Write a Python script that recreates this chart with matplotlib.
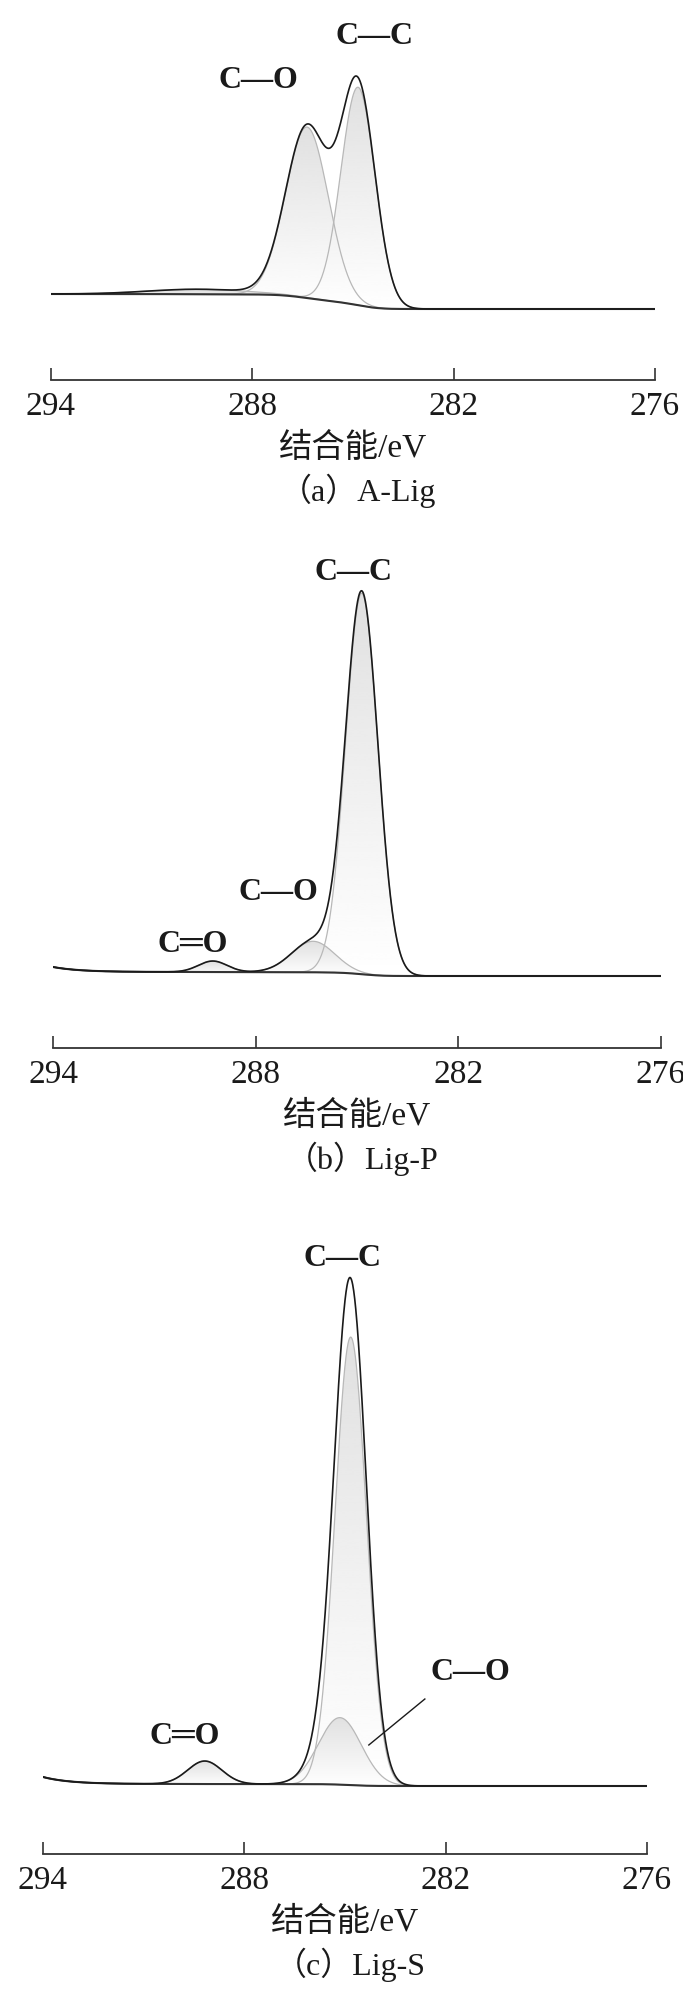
import numpy as np
import matplotlib
matplotlib.use("Agg")
import matplotlib.pyplot as plt
from matplotlib.patches import Polygon

plt.rcParams['font.family'] = ['Liberation Serif', 'Noto Sans CJK SC', 'DejaVu Serif']

W, H = 683, 1996

# fitted C1s components: centre (eV), height (a.u.), FWHM (eV)
a_names = ['C—C', 'C—O', 'C═O']
a_center = [284.85, 286.37, 289.6]
a_height = [218, 171, 5]
a_fwhm = [1.2, 1.5, 3.5]
a_bg = [15, 0]          # background level at 294 eV and 276 eV
a_tail = [0, 0.8]       # high-BE tail: amplitude, decay (eV)

b_names = ['C—C', 'C—O', 'C═O']
b_center = [284.86, 286.3, 289.27]
b_height = [381, 31, 11]
b_fwhm = [1.13, 1.5, 1.0]
b_bg = [4, 0]
b_tail = [5, 0.8]

c_names = ['C—C', 'C—O', 'C═O']
c_center = [284.83, 285.15, 289.18]
c_height = [448, 67, 23]
c_fwhm = [1.1, 1.5, 1.2]
c_bg = [2, 0]
c_tail = [7, 0.8]

xticks = [294, 288, 282, 276]
xlabel = '结合能/eV'
captions = ['（a）A-Lig', '（b）Lig-P', '（c）Lig-S']

# label positions (eV, intensity) per panel
a_lab = {'C—C': (284.35, 272), 'C—O': (287.83, 228)}
b_lab = {'C—C': (285.1, 404), 'C—O': (287.34, 84), 'C═O': (289.86, 32)}
c_lab = {'C—C': (285.06, 527), 'C—O': (281.25, 113), 'C═O': (289.77, 50)}

# pixel layout: left, right, axis line y, top y, right-baseline y
layout = [(51, 655, 380, 0, 309),
          (53, 661, 1048, 530, 976),
          (43, 647, 1854, 1215, 1786)]


def gauss(E, c, h, w):
    return h * np.exp(-4 * np.log(2) * ((E - c) / w) ** 2)


def draw_panel(fig, geom, centers, heights, fwhms, bg, tail, labels, caption, leader=None):
    left, right, axy, topy, basey = geom
    ax = fig.add_axes([left / W, 1 - axy / H, (right - left) / W, (axy - topy) / H])
    E = np.linspace(294, 276, 1801)
    comps = [gauss(E, c, h, w) for c, h, w in zip(centers, heights, fwhms)]
    S = np.sum(comps, axis=0)
    # Shirley background
    cum = np.cumsum(S[::-1])[::-1]
    B = bg[1] + (bg[0] - bg[1]) * cum / cum[0]
    B = B + tail[0] * np.exp((E - 294) / tail[1])
    env = B + S

    for comp in comps:
        top = B + comp
        verts = np.column_stack([np.r_[E, E[::-1]], np.r_[top, B[::-1]]])
        poly = Polygon(verts, closed=True, facecolor='none', edgecolor='none')
        ax.add_patch(poly)
        grad = np.linspace(1.0, 0.88, 256).reshape(-1, 1)
        im = ax.imshow(grad, cmap='gray', vmin=0, vmax=1, aspect='auto',
                       extent=[294, 276, B.min(), top.max()], origin='lower',
                       interpolation='bicubic', zorder=1)
        im.set_clip_path(poly)
        ax.plot(E, top, color='#b8b8b8', lw=0.9, zorder=2)

    ax.plot(E, B, color='#333333', lw=1.5, zorder=3)
    ax.plot(E, env, color='#1a1a1a', lw=1.2, zorder=4)

    for name, (x, y) in labels.items():
        ax.text(x, y, name, ha='center', va='center', fontsize=23,
                fontweight='bold', color='#1a1a1a',
                family=['Liberation Serif', 'DejaVu Serif'])
    if leader is not None:
        ax.plot(leader[0], leader[1], color='#1a1a1a', lw=1.0, zorder=5)

    ybot = -(axy - basey)
    ax.set_ylim(ybot, ybot + (axy - topy))
    ax.set_xlim(294, 276)
    for s in ['left', 'right', 'top']:
        ax.spines[s].set_visible(False)
    ax.spines['bottom'].set_color('#333333')
    ax.spines['bottom'].set_linewidth(1.3)
    ax.set_yticks([])
    ax.set_xticks(xticks)
    ax.set_xticklabels([str(t) for t in xticks])
    ax.tick_params(axis='x', direction='in', length=8.5, width=1.2, color='#333333',
                   labelsize=24, pad=8, labelcolor='#1a1a1a')
    ax.patch.set_alpha(0)

    cx = (left + right) / 2
    fig.text(cx / W, 1 - (axy + 68) / H, xlabel, ha='center', va='center',
             fontsize=24, color='#1a1a1a')
    fig.text((cx + 5) / W, 1 - (axy + 111) / H, caption, ha='center', va='center',
             fontsize=23, color='#1a1a1a')
    return ax


fig = plt.figure(figsize=(W / 100, H / 100), dpi=100)
draw_panel(fig, layout[0], a_center, a_height, a_fwhm, a_bg, a_tail, a_lab, captions[0])
draw_panel(fig, layout[1], b_center, b_height, b_fwhm, b_bg, b_tail, b_lab, captions[1])
draw_panel(fig, layout[2], c_center, c_height, c_fwhm, c_bg, c_tail, c_lab, captions[2],
           leader=([282.62, 284.29], [87, 41]))
fig.savefig('out.png', dpi=100, facecolor='white')
